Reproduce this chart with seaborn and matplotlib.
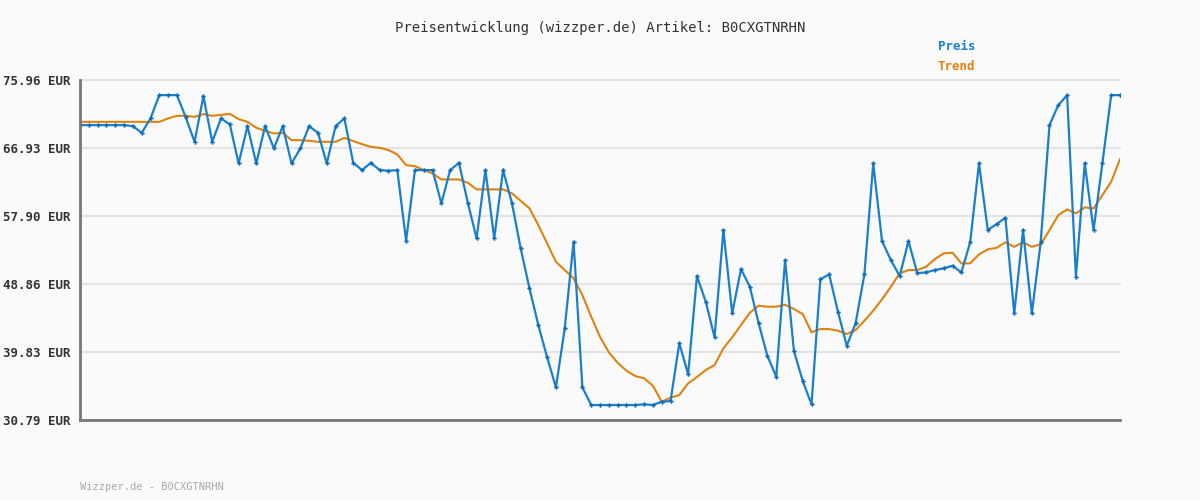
import pandas as pd
import matplotlib
matplotlib.use("Agg")
import matplotlib.pyplot as plt
import seaborn as sns

# price readings, one per sample
preis = [69.97, 69.97, 69.97, 69.97, 69.97, 69.97, 69.83, 68.94, 70.86, 73.95,
         73.95, 73.95, 70.99, 67.75, 73.82, 67.75, 70.86, 70.06, 64.88, 69.83,
         64.88, 69.83, 66.87, 69.83, 64.88, 66.87, 69.83, 68.94, 64.88, 69.83,
         70.86, 64.96, 63.99, 64.96, 63.99, 63.90, 63.99, 54.60, 63.99, 63.99,
         63.99, 59.57, 63.99, 64.96, 59.65, 54.92, 63.99, 54.92, 63.99, 59.65,
         53.59, 48.28, 43.41, 39.12, 35.13, 42.97, 54.47, 35.13, 32.78, 32.78,
         32.78, 32.78, 32.78, 32.78, 32.87, 32.78, 33.22, 33.31, 40.98, 36.86,
         49.91, 46.50, 41.77, 56.02, 44.96, 50.84, 48.49, 43.63, 39.29, 36.54,
         52.04, 39.99, 35.97, 32.87, 49.47, 50.14, 45.17, 40.66, 43.63, 50.14,
         64.88, 54.56, 52.04, 49.91, 54.56, 50.30, 50.40, 50.71, 50.94, 51.28,
         50.40, 54.39, 64.88, 56.02, 56.82, 57.66, 44.96, 56.02, 44.96, 54.39,
         69.97, 72.62, 73.95, 49.82, 64.88, 56.02, 64.88, 73.95, 73.95]

trend = [70.40, 70.40, 70.40, 70.40, 70.40, 70.40, 70.40, 70.40, 70.40, 70.40,
         70.86, 71.20, 71.20, 71.07, 71.43, 71.20, 71.33, 71.47, 70.76, 70.40,
         69.61, 69.21, 68.86, 68.94, 67.97, 67.97, 67.88, 67.75, 67.75, 67.75,
         68.28, 67.84, 67.44, 67.08, 66.95, 66.65, 66.07, 64.65, 64.52, 63.99,
         63.55, 62.75, 62.75, 62.75, 62.30, 61.43, 61.43, 61.43, 61.43, 60.90,
         59.91, 58.90, 56.69, 54.26, 51.81, 50.71, 49.61, 47.39, 44.51, 41.85,
         39.78, 38.40, 37.34, 36.63, 36.33, 35.35, 33.22, 33.75, 34.11, 35.66,
         36.50, 37.43, 38.09, 40.31, 41.77, 43.41, 45.04, 45.97, 45.84, 45.84,
         46.10, 45.53, 44.87, 42.44, 42.87, 42.87, 42.65, 42.21, 42.74, 43.98,
         45.31, 46.82, 48.49, 50.27, 50.71, 50.71, 51.15, 52.17, 52.93, 53.01,
         51.60, 51.60, 52.79, 53.46, 53.67, 54.39, 53.80, 54.39, 53.80, 54.12,
         56.02, 58.01, 58.77, 58.24, 59.04, 58.90, 60.67, 62.44, 65.45]

y_ticks = [30.79, 39.83, 48.86, 57.90, 66.93, 75.96]
artikel = "B0CXGTNRHN"

df = pd.DataFrame({"idx": range(len(preis)), "Preis": preis, "Trend": trend})

sns.set_style("white")
plt.rcParams["font.family"] = ["DejaVu Sans Mono"]

fig = plt.figure(figsize=(12, 5), dpi=100, facecolor="#fafafa")
ax = fig.add_axes([80 / 1200, 0.16, 1040 / 1200, 0.68])
ax.set_facecolor("#fafafa")

for v in y_ticks:
    ax.axhline(v, color="#e4e4e4", lw=1.5, zorder=0, clip_on=False)

sns.lineplot(data=df, x="idx", y="Trend", ax=ax, color="#e0820f", lw=1.5)
sns.lineplot(data=df, x="idx", y="Preis", ax=ax, color="#1a7fcc", lw=1.6,
             marker="P", markersize=3.2, markeredgewidth=0, markerfacecolor="#0a6ab8")

ax.set_xlim(0, len(preis) - 1)
ax.set_ylim(30.79, 75.96)
ax.set_yticks(y_ticks)
ax.set_yticklabels([f"{v:.2f} EUR" for v in y_ticks], fontsize=9, fontweight="bold", color="#333333")
ax.set_xticks([])
ax.set_xlabel("")
ax.set_ylabel("")
ax.tick_params(axis="y", length=0, pad=7)
for s in ["top", "right"]:
    ax.spines[s].set_visible(False)
ax.spines["left"].set_color("#777777")
ax.spines["left"].set_linewidth(2)
ax.spines["bottom"].set_color("#777777")
ax.spines["bottom"].set_linewidth(2)

fig.text(0.5, 1 - 28 / 500, f"Preisentwicklung (wizzper.de) Artikel: {artikel}",
         ha="center", va="center", fontsize=10, color="#333333")
fig.text(938 / 1200, 1 - 47 / 500, "Preis", ha="left", va="center", fontsize=9,
         fontweight="bold", color="#1a7fcc")
fig.text(938 / 1200, 1 - 67 / 500, "Trend", ha="left", va="center", fontsize=9,
         fontweight="bold", color="#e0820f")
fig.text(80 / 1200, 1 - 487 / 500, f"Wizzper.de - {artikel}", ha="left", va="center",
         fontsize=7.5, color="#aaaaaa")

fig.savefig("out.png", dpi=100, facecolor="#fafafa")
